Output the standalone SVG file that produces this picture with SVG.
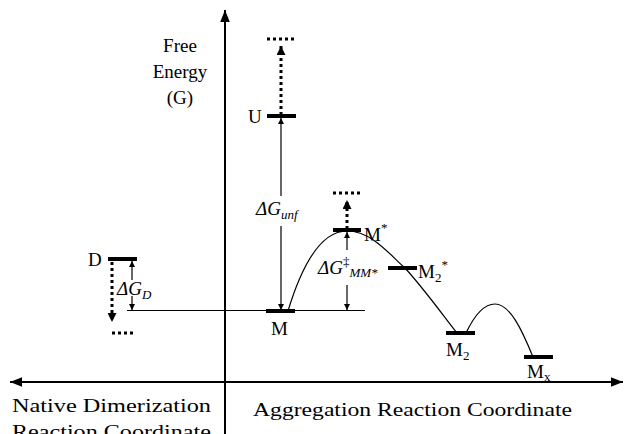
<svg xmlns="http://www.w3.org/2000/svg" width="626" height="434" viewBox="0 0 626 434">
<style>
text{font-family:"Liberation Serif","Times New Roman",serif;font-size:19px;fill:#000}
.it{font-style:italic}
.ax{stroke:#000;stroke-width:2;fill:none}
.thin{stroke:#000;stroke-width:1.2;fill:none}
.bar{stroke:#000;stroke-width:4;fill:none}
.dot{stroke:#000;stroke-width:3;stroke-dasharray:3 3;fill:none}
</style>
<defs>
<marker id="ah" viewBox="0 0 10 10" refX="10" refY="5" markerWidth="6" markerHeight="6" orient="auto-start-reverse" markerUnits="userSpaceOnUse"><path d="M0,0L10,5L0,10z" fill="#000"/></marker>
<marker id="big" viewBox="0 0 10 10" refX="10" refY="5" markerWidth="12" markerHeight="12" orient="auto-start-reverse" markerUnits="userSpaceOnUse"><path d="M0,1L10,5L0,9z" fill="#000"/></marker>
<marker id="dah" viewBox="0 0 10 10" refX="10" refY="5" markerWidth="9" markerHeight="9" orient="auto" markerUnits="userSpaceOnUse"><path d="M0,0L10,5L0,10z" fill="#000"/></marker>
</defs>
<g id="axes">
<line class="ax" x1="225" y1="434" x2="225" y2="10" marker-end="url(#big)"/>
<line class="ax" x1="10" y1="382" x2="623" y2="382" marker-start="url(#big)" marker-end="url(#big)"/>
<text x="180" y="52" text-anchor="middle">Free</text>
<text x="180" y="78" text-anchor="middle">Energy</text>
<text x="180" y="104" text-anchor="middle">(G)</text>
<text x="12" y="412" textLength="199" lengthAdjust="spacingAndGlyphs">Native Dimerization</text>
<text x="12" y="438" textLength="199" lengthAdjust="spacingAndGlyphs">Reaction Coordinate</text>
<text x="253" y="416" textLength="319" lengthAdjust="spacingAndGlyphs">Aggregation Reaction Coordinate</text>
</g>
<g id="connectors">
<line class="thin" x1="127" y1="310.5" x2="365" y2="310.5"/>
<path class="thin" d="M288,311 C305,255 325,231 347,231 C372,231 390,255 405,268 C425,290 445,318 457,333"/>
<path class="thin" d="M466,333 C476,312 486,304 495,304 C510,304 522,330 533,357"/>
<line class="dot" x1="112" y1="262" x2="112" y2="322" marker-end="url(#dah)"/>
<line class="dot" x1="281" y1="115" x2="281" y2="46" marker-end="url(#dah)"/>
<line class="dot" x1="347" y1="229" x2="347" y2="200" marker-end="url(#dah)"/>
<line class="thin" x1="132" y1="280" x2="132" y2="261" marker-end="url(#ah)"/>
<line class="thin" x1="132" y1="296" x2="132" y2="310" marker-end="url(#ah)"/>
<line class="thin" x1="281" y1="196" x2="281" y2="118" marker-end="url(#ah)"/>
<line class="thin" x1="281" y1="226" x2="281" y2="310" marker-end="url(#ah)"/>
<line class="thin" x1="347" y1="250" x2="347" y2="232" marker-end="url(#ah)"/>
<line class="thin" x1="347" y1="285" x2="347" y2="310" marker-end="url(#ah)"/>
</g>
<g id="node-D">
<line class="bar" x1="108" y1="259" x2="137" y2="259"/>
<text x="88" y="266">D</text>
<text x="117" y="295" class="it">ΔG<tspan font-size="13" dy="4">D</tspan></text>
<line class="dot" x1="112" y1="333" x2="136" y2="333"/>
</g>
<g id="node-U">
<line class="bar" x1="267" y1="116" x2="296" y2="116"/>
<text x="248" y="123">U</text>
<line class="dot" x1="267" y1="39" x2="294" y2="39"/>
<text x="256" y="215" class="it">ΔG<tspan font-size="13" dy="4">unf</tspan></text>
</g>
<g id="node-M">
<line class="bar" x1="266" y1="311" x2="295" y2="311"/>
<text x="271" y="335">M</text>
</g>
<g id="node-Mstar">
<line class="bar" x1="333" y1="230" x2="361" y2="230"/>
<text x="364" y="241">M<tspan font-size="13" dy="-9">*</tspan></text>
<line class="dot" x1="333" y1="193" x2="362" y2="193"/>
<text x="318" y="274" class="it">ΔG<tspan font-size="13" dy="-8" font-style="normal">‡</tspan><tspan font-size="13" dy="11">MM*</tspan></text>
</g>
<g id="node-M2star">
<line class="bar" x1="388" y1="268" x2="417" y2="268"/>
<text x="418" y="278">M<tspan font-size="13" dy="4">2</tspan><tspan font-size="13" dy="-13">*</tspan></text>
</g>
<g id="node-M2">
<line class="bar" x1="446" y1="333" x2="475" y2="333"/>
<text x="446" y="356">M<tspan font-size="13" dy="4">2</tspan></text>
</g>
<g id="node-Mx">
<line class="bar" x1="524" y1="357" x2="553" y2="357"/>
<text x="527" y="378">M<tspan font-size="13" dy="3">x</tspan></text>
</g>
</svg>
